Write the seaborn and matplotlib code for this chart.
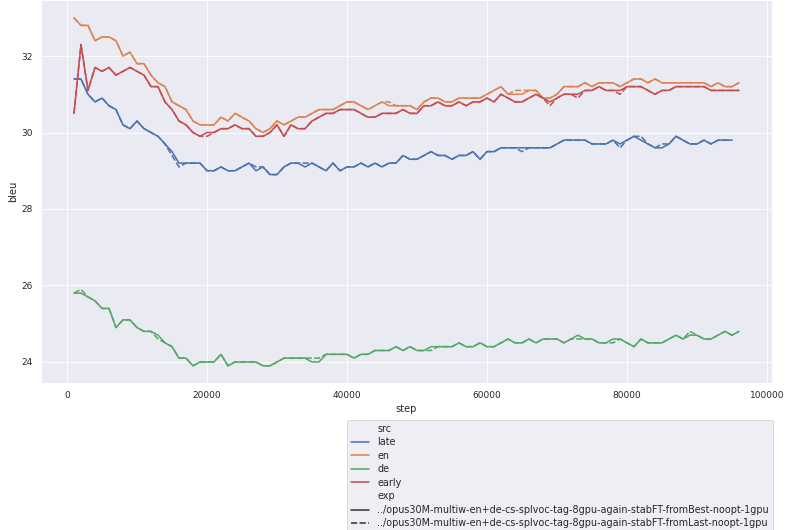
import matplotlib
matplotlib.use("Agg")
import matplotlib.pyplot as plt
import pandas as pd
import seaborn as sns

# BLEU on the dev set, evaluated every 1000 training steps
src_order = ["late", "en", "de", "early"]
exp_order = [
    "../opus30M-multiw-en+de-cs-splvoc-tag-8gpu-again-stabFT-fromBest-noopt-1gpu",
    "../opus30M-multiw-en+de-cs-splvoc-tag-8gpu-again-stabFT-fromLast-noopt-1gpu",
]
step_interval = 1000

late_best = [31.4, 31.4, 31.0, 30.8, 30.9, 30.7, 30.6, 30.2, 30.1, 30.3,
             30.1, 30.0, 29.9, 29.7, 29.5, 29.2, 29.2, 29.2, 29.2, 29.0,
             29.0, 29.1, 29.0, 29.0, 29.1, 29.2, 29.0, 29.1, 28.9, 28.9,
             29.1, 29.2, 29.2, 29.1, 29.2, 29.1, 29.0, 29.2, 29.0, 29.1,
             29.1, 29.2, 29.1, 29.2, 29.1, 29.2, 29.2, 29.4, 29.3, 29.3,
             29.4, 29.5, 29.4, 29.4, 29.3, 29.4, 29.4, 29.5, 29.3, 29.5,
             29.5, 29.6, 29.6, 29.6, 29.6, 29.6, 29.6, 29.6, 29.6, 29.7,
             29.8, 29.8, 29.8, 29.8, 29.7, 29.7, 29.7, 29.8, 29.7, 29.8,
             29.9, 29.8, 29.7, 29.6, 29.6, 29.7, 29.9, 29.8, 29.7, 29.7,
             29.8, 29.7, 29.8, 29.8, 29.8]
late_last = [31.4, 31.4, 31.0, 30.8, 30.9, 30.7, 30.6, 30.2, 30.1, 30.3,
             30.1, 30.0, 29.9, 29.7, 29.4, 29.1, 29.2, 29.2, 29.2, 29.0,
             29.0, 29.1, 29.0, 29.0, 29.1, 29.2, 29.1, 29.1, 28.9, 28.9,
             29.1, 29.2, 29.2, 29.2, 29.2, 29.1, 29.0, 29.2, 29.0, 29.1,
             29.1, 29.2, 29.1, 29.2, 29.1, 29.2, 29.2, 29.4, 29.3, 29.3,
             29.4, 29.5, 29.4, 29.4, 29.3, 29.4, 29.4, 29.5, 29.3, 29.5,
             29.5, 29.6, 29.6, 29.6, 29.5, 29.6, 29.6, 29.6, 29.6, 29.7,
             29.8, 29.8, 29.8, 29.8, 29.7, 29.7, 29.7, 29.8, 29.6, 29.8,
             29.9, 29.9, 29.7, 29.6, 29.7, 29.7, 29.9, 29.8, 29.7, 29.7,
             29.8, 29.7, 29.8, 29.8, 29.8]

en_best = [33.0, 32.8, 32.8, 32.4, 32.5, 32.5, 32.4, 32.0, 32.1, 31.8,
           31.8, 31.5, 31.3, 31.2, 30.8, 30.7, 30.6, 30.3, 30.2, 30.2,
           30.2, 30.4, 30.3, 30.5, 30.4, 30.3, 30.1, 30.0, 30.1, 30.3,
           30.2, 30.3, 30.4, 30.4, 30.5, 30.6, 30.6, 30.6, 30.7, 30.8,
           30.8, 30.7, 30.6, 30.7, 30.8, 30.7, 30.7, 30.7, 30.7, 30.6,
           30.8, 30.9, 30.9, 30.8, 30.8, 30.9, 30.9, 30.9, 30.9, 31.0,
           31.1, 31.2, 31.0, 31.0, 31.0, 31.1, 31.1, 30.9, 30.9, 31.0,
           31.2, 31.2, 31.2, 31.3, 31.2, 31.3, 31.3, 31.3, 31.2, 31.3,
           31.4, 31.4, 31.3, 31.4, 31.3, 31.3, 31.3, 31.3, 31.3, 31.3,
           31.3, 31.2, 31.3, 31.2, 31.2, 31.3]
en_last = [33.0, 32.8, 32.8, 32.4, 32.5, 32.5, 32.4, 32.0, 32.1, 31.8,
           31.8, 31.5, 31.3, 31.2, 30.8, 30.7, 30.6, 30.3, 30.2, 30.2,
           30.2, 30.4, 30.3, 30.5, 30.4, 30.3, 30.1, 30.0, 30.1, 30.3,
           30.2, 30.3, 30.4, 30.4, 30.5, 30.6, 30.6, 30.6, 30.7, 30.8,
           30.8, 30.7, 30.6, 30.7, 30.8, 30.8, 30.7, 30.7, 30.7, 30.6,
           30.8, 30.9, 30.9, 30.8, 30.8, 30.9, 30.9, 30.9, 30.9, 31.0,
           31.1, 31.2, 31.0, 31.1, 31.1, 31.1, 31.1, 30.9, 30.9, 31.0,
           31.2, 31.2, 31.2, 31.3, 31.2, 31.3, 31.3, 31.3, 31.2, 31.3,
           31.4, 31.4, 31.3, 31.4, 31.3, 31.3, 31.3, 31.3, 31.3, 31.3,
           31.3, 31.2, 31.3, 31.2, 31.2, 31.3]

de_best = [25.8, 25.8, 25.7, 25.6, 25.4, 25.4, 24.9, 25.1, 25.1, 24.9,
           24.8, 24.8, 24.7, 24.5, 24.4, 24.1, 24.1, 23.9, 24.0, 24.0,
           24.0, 24.2, 23.9, 24.0, 24.0, 24.0, 24.0, 23.9, 23.9, 24.0,
           24.1, 24.1, 24.1, 24.1, 24.0, 24.0, 24.2, 24.2, 24.2, 24.2,
           24.1, 24.2, 24.2, 24.3, 24.3, 24.3, 24.4, 24.3, 24.4, 24.3,
           24.3, 24.4, 24.4, 24.4, 24.4, 24.5, 24.4, 24.4, 24.5, 24.4,
           24.4, 24.5, 24.6, 24.5, 24.5, 24.6, 24.5, 24.6, 24.6, 24.6,
           24.5, 24.6, 24.7, 24.6, 24.6, 24.5, 24.5, 24.6, 24.6, 24.5,
           24.4, 24.6, 24.5, 24.5, 24.5, 24.6, 24.7, 24.6, 24.7, 24.7,
           24.6, 24.6, 24.7, 24.8, 24.7, 24.8]
de_last = [25.8, 25.9, 25.7, 25.6, 25.4, 25.4, 24.9, 25.1, 25.1, 24.9,
           24.8, 24.8, 24.6, 24.5, 24.4, 24.1, 24.1, 23.9, 24.0, 24.0,
           24.0, 24.2, 23.9, 24.0, 24.0, 24.0, 24.0, 23.9, 23.9, 24.0,
           24.1, 24.1, 24.1, 24.1, 24.1, 24.1, 24.2, 24.2, 24.2, 24.2,
           24.1, 24.2, 24.2, 24.3, 24.3, 24.3, 24.4, 24.3, 24.4, 24.3,
           24.3, 24.3, 24.4, 24.4, 24.4, 24.5, 24.4, 24.4, 24.5, 24.4,
           24.4, 24.5, 24.6, 24.5, 24.5, 24.6, 24.5, 24.6, 24.6, 24.6,
           24.5, 24.6, 24.6, 24.6, 24.6, 24.5, 24.5, 24.5, 24.6, 24.5,
           24.4, 24.6, 24.5, 24.5, 24.5, 24.6, 24.7, 24.6, 24.8, 24.7,
           24.6, 24.6, 24.7, 24.8, 24.7, 24.8]

early_best = [30.5, 32.3, 31.1, 31.7, 31.6, 31.7, 31.5, 31.6, 31.7, 31.6,
              31.5, 31.2, 31.2, 30.8, 30.6, 30.3, 30.2, 30.0, 29.9, 30.0,
              30.0, 30.1, 30.1, 30.2, 30.1, 30.1, 29.9, 29.9, 30.0, 30.2,
              29.9, 30.2, 30.1, 30.1, 30.3, 30.4, 30.5, 30.5, 30.6, 30.6,
              30.6, 30.5, 30.4, 30.4, 30.5, 30.5, 30.5, 30.6, 30.5, 30.5,
              30.7, 30.7, 30.8, 30.7, 30.7, 30.8, 30.7, 30.8, 30.8, 30.9,
              30.8, 31.0, 30.9, 30.8, 30.8, 30.9, 31.0, 30.9, 30.8, 30.9,
              31.0, 31.0, 31.0, 31.1, 31.1, 31.2, 31.1, 31.1, 31.1, 31.2,
              31.2, 31.2, 31.1, 31.0, 31.1, 31.1, 31.2, 31.2, 31.2, 31.2,
              31.2, 31.1, 31.1, 31.1, 31.1, 31.1]
early_last = [30.5, 32.3, 31.1, 31.7, 31.6, 31.7, 31.5, 31.6, 31.7, 31.6,
              31.5, 31.2, 31.2, 30.8, 30.6, 30.3, 30.2, 30.0, 29.9, 29.9,
              30.0, 30.1, 30.1, 30.2, 30.1, 30.1, 29.9, 29.9, 30.0, 30.2,
              29.9, 30.2, 30.1, 30.1, 30.3, 30.4, 30.5, 30.5, 30.6, 30.6,
              30.6, 30.5, 30.4, 30.4, 30.5, 30.5, 30.5, 30.6, 30.5, 30.5,
              30.7, 30.7, 30.8, 30.7, 30.7, 30.8, 30.7, 30.8, 30.8, 30.9,
              30.8, 31.0, 30.9, 30.8, 30.8, 30.9, 31.0, 30.9, 30.7, 30.9,
              31.0, 31.0, 30.9, 31.1, 31.1, 31.2, 31.1, 31.1, 31.0, 31.2,
              31.2, 31.2, 31.1, 31.0, 31.1, 31.1, 31.2, 31.2, 31.2, 31.2,
              31.2, 31.1, 31.1, 31.1, 31.1, 31.1]

series = {
    "late": (late_best, late_last),
    "en": (en_best, en_last),
    "de": (de_best, de_last),
    "early": (early_best, early_last),
}

rows = []
for src in src_order:
    for exp, values in zip(exp_order, series[src]):
        for i, v in enumerate(values):
            rows.append({"step": (i + 1) * step_interval, "bleu": v,
                         "src": src, "exp": exp})
df = pd.DataFrame(rows)

sns.set_theme(style="darkgrid")

DPI = 59
fig = plt.figure(figsize=(788 / DPI, 530 / DPI), dpi=DPI)
ax = fig.add_axes([0.0517, 0.277, 0.9283, 0.7223])

sns.lineplot(data=df, x="step", y="bleu", hue="src", style="exp",
             hue_order=src_order, style_order=exp_order,
             errorbar=None, linewidth=1.9, ax=ax)
ax.xaxis.labelpad = 5

sns.move_legend(ax, "upper right", bbox_to_anchor=(1.007, -0.083),
                fontsize=11.7, labelspacing=0.37, handlelength=1.9)

fig.savefig("out.png", dpi=DPI)
